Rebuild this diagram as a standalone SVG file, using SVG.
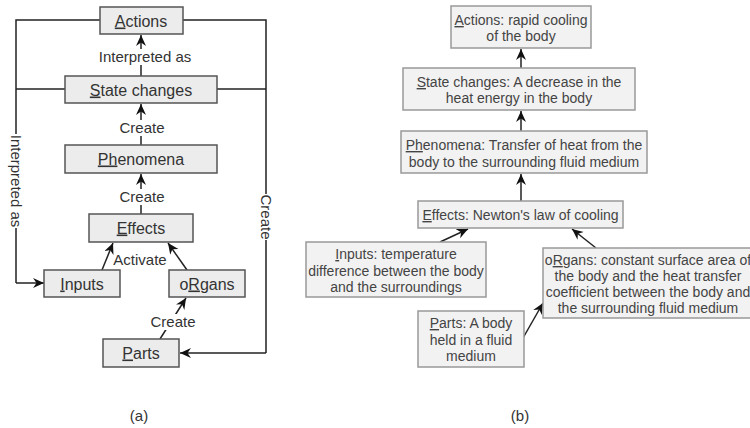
<svg xmlns="http://www.w3.org/2000/svg" width="750" height="428" viewBox="0 0 750 428">
<defs>
<marker id="arr" markerWidth="12" markerHeight="11" refX="11" refY="5" orient="auto" markerUnits="userSpaceOnUse">
<path d="M0,0 L11,5 L0,10 L3.5,5 z" fill="#111"/>
</marker>
<style>
text{font-family:"Liberation Sans",Arial,sans-serif;text-anchor:middle}
.na rect{fill:#ececec;stroke:#555;stroke-width:1.5}
.na text{font-size:16px;fill:#333}
.nb rect{fill:#f2f2f2;stroke:#999;stroke-width:1.5}
.nb text{font-size:14px;fill:#444}
.u{text-decoration:underline}
.ln{fill:none;stroke:#222;stroke-width:1.5}
.ar{fill:none;stroke:#222;stroke-width:1.5;marker-end:url(#arr)}
.lbl{font-size:15px;fill:#333}
.bg{fill:#fff}
.cap{font-size:15px;fill:#333}
</style>
</defs>

<g id="connectors">
<!-- panel a -->
<polyline class="ln" points="100,20 16,20 16,283"/>
<polyline class="ar" points="16,283 44,283"/>
<line class="ln" x1="65" y1="89" x2="16" y2="89"/>
<polyline class="ln" points="183,20 266,20 266,353"/>
<polyline class="ar" points="266,353 180,353"/>
<line class="ln" x1="217" y1="89" x2="266" y2="89"/>
<line class="ar" x1="141" y1="76" x2="141" y2="35"/>
<line class="ar" x1="141" y1="145" x2="141" y2="104"/>
<line class="ar" x1="141" y1="214" x2="141" y2="174"/>
<line class="ar" x1="102" y1="270" x2="113" y2="243"/>
<line class="ar" x1="187" y1="270" x2="168" y2="243"/>
<line class="ar" x1="160" y1="339" x2="186" y2="298"/>
<!-- labels a -->
<rect class="bg" x="98" y="49" width="95" height="16"/>
<text class="lbl" x="145" y="62">Interpreted as</text>
<rect class="bg" x="119" y="120" width="46" height="16"/>
<text class="lbl" x="142" y="133">Create</text>
<rect class="bg" x="119" y="189" width="46" height="16"/>
<text class="lbl" x="142" y="202">Create</text>
<text class="lbl" x="140" y="265">Activate</text>
<rect class="bg" x="151" y="314" width="45" height="16"/>
<text class="lbl" x="173" y="327">Create</text>
<g transform="translate(16,181) rotate(90)">
<rect class="bg" x="-47" y="-8" width="94" height="16"/>
<text class="lbl" x="0" y="5">Interpreted as</text>
</g>
<g transform="translate(266,217) rotate(90)">
<rect class="bg" x="-23" y="-8" width="46" height="16"/>
<text class="lbl" x="0" y="5">Create</text>
</g>
<!-- panel b -->
<line class="ar" x1="521" y1="68" x2="521" y2="49"/>
<line class="ar" x1="521" y1="131" x2="521" y2="111"/>
<line class="ar" x1="521" y1="201" x2="521" y2="174"/>
<line class="ar" x1="440" y1="242" x2="468" y2="229"/>
<line class="ar" x1="596" y1="248" x2="572" y2="229"/>
<line class="ar" x1="523" y1="338" x2="543" y2="303"/>
</g>

<g id="a-actions" class="na"><rect x="100" y="7" width="83" height="27"/><text x="141" y="26.5"><tspan class="u">A</tspan>ctions</text></g>
<g id="a-state" class="na"><rect x="65" y="76" width="152" height="27"/><text x="141" y="95.5"><tspan class="u">S</tspan>tate changes</text></g>
<g id="a-phenomena" class="na"><rect x="65" y="145" width="152" height="28"/><text x="141" y="164.5"><tspan class="u">Ph</tspan>enomena</text></g>
<g id="a-effects" class="na"><rect x="89" y="214" width="104" height="28"/><text x="141" y="233.5"><tspan class="u">E</tspan>ffects</text></g>
<g id="a-inputs" class="na"><rect x="44" y="270" width="76" height="27"/><text x="82" y="289.5"><tspan class="u">I</tspan>nputs</text></g>
<g id="a-organs" class="na"><rect x="169" y="270" width="76" height="27"/><text x="207" y="289.5">o<tspan class="u">R</tspan>gans</text></g>
<g id="a-parts" class="na"><rect x="103" y="339" width="76" height="28"/><text x="141" y="358.5"><tspan class="u">P</tspan>arts</text></g>

<g id="b-actions" class="nb"><rect x="451" y="6" width="140" height="42"/><text x="521" y="25"><tspan class="u">A</tspan>ctions: rapid cooling</text><text x="521" y="41">of the body</text></g>
<g id="b-state" class="nb"><rect x="403" y="68" width="232" height="42"/><text x="519" y="87"><tspan class="u">S</tspan>tate changes: A decrease in the</text><text x="519" y="103">heat energy in the body</text></g>
<g id="b-phenomena" class="nb"><rect x="401" y="131" width="246" height="42"/><text x="524" y="150"><tspan class="u">Ph</tspan>enomena: Transfer of heat from the</text><text x="524" y="167">body to the surrounding fluid medium</text></g>
<g id="b-effects" class="nb"><rect x="418" y="201" width="205" height="27"/><text x="520.5" y="220"><tspan class="u">E</tspan>ffects: Newton's law of cooling</text></g>
<g id="b-inputs" class="nb"><rect x="306" y="242" width="180" height="55"/><text x="396" y="259"><tspan class="u">I</tspan>nputs: temperature</text><text x="396" y="275.5">difference between the body</text><text x="396" y="292">and the surroundings</text></g>
<g id="b-organs" class="nb"><rect x="543" y="248" width="210" height="70"/><text x="648" y="265">o<tspan class="u">R</tspan>gans: constant surface area of</text><text x="648" y="281">the body and the heat transfer</text><text x="648" y="297">coefficient between the body and</text><text x="648" y="313">the surrounding fluid medium</text></g>
<g id="b-parts" class="nb"><rect x="418" y="311" width="106" height="56"/><text x="471" y="328"><tspan class="u">P</tspan>arts: A body</text><text x="471" y="345">held in a fluid</text><text x="471" y="361">medium</text></g>

<text class="cap" x="139" y="421">(a)</text>
<text class="cap" x="520" y="421">(b)</text>
</svg>
